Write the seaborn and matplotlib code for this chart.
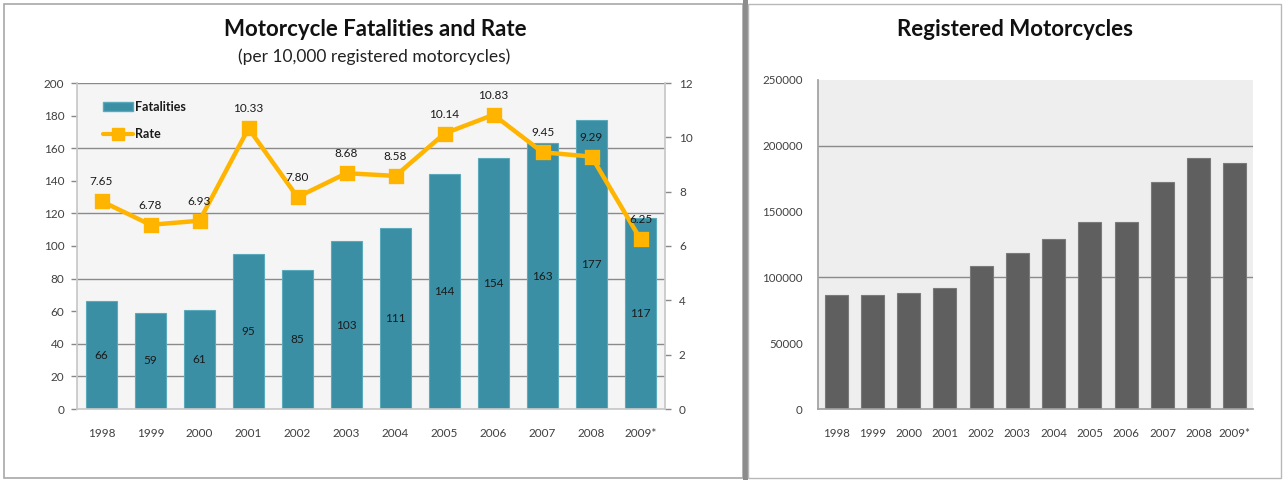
import matplotlib
matplotlib.use("Agg")
import matplotlib.pyplot as plt
from matplotlib.patches import Rectangle, Patch
from matplotlib.lines import Line2D
import seaborn as sns
import pandas as pd
import numpy as np

# ---- data ----
years = ["1998", "1999", "2000", "2001", "2002", "2003", "2004", "2005", "2006", "2007", "2008", "2009*"]
fatalities = [66, 59, 61, 95, 85, 103, 111, 144, 154, 163, 177, 117]
rates = [7.65, 6.78, 6.93, 10.33, 7.80, 8.68, 8.58, 10.14, 10.83, 9.45, 9.29, 6.25]
registered = [86300, 87000, 88000, 92000, 109000, 118700, 129400, 142000, 142200, 172500, 190500, 187200]

left_yticks = [0, 20, 40, 60, 80, 100, 120, 140, 160, 180, 200]
left_grid = [20, 40, 80, 120, 160, 200]
right_yticks = [0, 2, 4, 6, 8, 10, 12]
reg_yticks = [0, 50000, 100000, 150000, 200000, 250000]
reg_grid = [100000, 200000]

sns.set_theme(style="white")
plt.rcParams['font.family'] = ['Lato', 'DejaVu Sans']

TEAL = "#3a8fa5"
TEAL_EDGE = "#5aaabb"
AMBER = "#ffb500"
GREY_BAR = "#5f5f5f"
TXT = "#404040"

W, H = 1283, 480
fig = plt.figure(figsize=(W / 100, H / 100), dpi=100)
fig.patch.set_facecolor("white")

def fx(px):
    return px / W

def fy(py):
    return 1 - py / H

# panel frames
fig.patches.append(Rectangle((fx(4), fy(478)), fx(739), 474 / H, transform=fig.transFigure,
                             fill=False, edgecolor="#a8a8a8", lw=1.2))
fig.patches.append(Rectangle((fx(743), fy(480)), fx(5), 1, transform=fig.transFigure,
                             facecolor="#8c8c8c", edgecolor="none"))
fig.patches.append(Rectangle((fx(748), fy(478)), fx(533), 474 / H, transform=fig.transFigure,
                             fill=False, edgecolor="#b8b8b8", lw=1.0))

df = pd.DataFrame({"year": years, "fatalities": fatalities, "rate": rates, "registered": registered})

# ---------- left chart ----------
ax = fig.add_axes([fx(77), fy(409), fx(665 - 77), (409 - 83) / H])
ax.set_facecolor("#f5f5f5")
sns.barplot(data=df, x="year", y="fatalities", ax=ax, color=TEAL, width=0.63,
            edgecolor=TEAL_EDGE, linewidth=0.8, saturation=1)
ax.set_ylim(0, 200)
ax.set_xlim(-0.5, len(years) - 0.5)
for g in left_grid:
    ax.axhline(g, color="#8a8a8a", lw=1.0, zorder=0.5)
ax.set_yticks(left_yticks)
ax.set_yticklabels([str(v) for v in left_yticks], fontsize=8.5, color=TXT)
ax.set_xticks(range(len(years)))
ax.set_xticklabels(years, fontsize=8.5, color=TXT)
ax.tick_params(axis="x", length=0, pad=14)
ax.set_xticks(np.arange(-0.5, len(years), 1), minor=True)
ax.tick_params(axis="x", which="minor", length=4, color="#aaaaaa", width=1, direction="out")
ax.tick_params(axis="y", length=4, color="#888888", width=1, direction="out", pad=5)
ax.set_xlabel("")
ax.set_ylabel("")
for s in ["top", "right"]:
    ax.spines[s].set_visible(False)
ax.spines["left"].set_color("#c8c8c8")
ax.spines["bottom"].set_color("#c8c8c8")
for i, v in enumerate(fatalities):
    ax.text(i, v / 2, str(v), ha="center", va="center", fontsize=8.5, color="#1a1a1a")

ax2 = ax.twinx()
sns.pointplot(data=df, x="year", y="rate", ax=ax2, color=AMBER, markers="s",
              markersize=9, linewidth=3.2, zorder=5)
ax2.set_ylim(0, 12)
ax2.set_xlim(-0.5, len(years) - 0.5)
ax2.set_yticks(right_yticks)
ax2.set_yticklabels([str(v) for v in right_yticks], fontsize=8.5, color=TXT)
ax2.tick_params(axis="y", length=4, color="#888888", width=1, direction="out", pad=6)
ax2.set_ylabel("")
ax2.set_xlabel("")
for s in ["top", "left", "bottom"]:
    ax2.spines[s].set_visible(False)
ax2.spines["right"].set_color("#c8c8c8")
for i, r in enumerate(rates):
    ax2.annotate(f"{r:.2f}", (i, r), xytext=(0, 14), textcoords="offset points",
                 ha="center", va="center", fontsize=8.5, color="#1a1a1a", zorder=6)

handles = [Patch(facecolor=TEAL, edgecolor=TEAL_EDGE, label="Fatalities"),
           Line2D([0], [0], color=AMBER, lw=3, marker="s", markersize=8, label="Rate")]
leg = ax2.legend(handles=handles, loc="upper left", bbox_to_anchor=(0.035, 0.96),
                 frameon=False, fontsize=9, handlelength=2.4, labelspacing=1.2,
                 handletextpad=0.2, borderaxespad=0)
for t in leg.get_texts():
    t.set_fontweight("bold")
    t.set_color("#1a1a1a")

fig.text(fx(375), fy(30), "Motorcycle Fatalities and Rate", ha="center", va="center",
         fontsize=16, fontweight="bold", color="#111111")
fig.text(fx(374), fy(57), "(per 10,000 registered motorcycles)", ha="center", va="center",
         fontsize=12.5, color="#222222")

# ---------- right chart ----------
ax3 = fig.add_axes([fx(818), fy(409), fx(1253 - 818), (409 - 80) / H])
ax3.set_facecolor("#eeeeee")
sns.barplot(data=df, x="year", y="registered", ax=ax3, color=GREY_BAR, width=0.63,
            edgecolor="#7a7a7a", linewidth=0.8, saturation=1)
ax3.set_ylim(0, 250000)
ax3.set_xlim(-0.5, len(years) - 0.5)
for g in reg_grid:
    ax3.axhline(g, color="#8a8a8a", lw=1.0, zorder=0.5)
ax3.set_yticks(reg_yticks)
ax3.set_yticklabels([str(v) for v in reg_yticks], fontsize=8.3, color=TXT)
ax3.set_xticks(range(len(years)))
ax3.set_xticklabels(years, fontsize=8.3, color=TXT)
ax3.tick_params(axis="x", length=0, pad=14)
ax3.set_xticks(np.arange(-0.5, len(years), 1), minor=True)
ax3.tick_params(axis="x", which="minor", length=4, color="#999999", width=1, direction="out")
ax3.tick_params(axis="y", length=5, color="#888888", width=1, direction="out", pad=6)
ax3.set_xlabel("")
ax3.set_ylabel("")
for s in ["top", "right"]:
    ax3.spines[s].set_visible(False)
ax3.spines["left"].set_color("#a0a0a0")
ax3.spines["bottom"].set_color("#a0a0a0")

fig.text(fx(1015), fy(30), "Registered Motorcycles", ha="center", va="center",
         fontsize=16, fontweight="bold", color="#111111")

fig.savefig("out.png", dpi=100, facecolor="white")
